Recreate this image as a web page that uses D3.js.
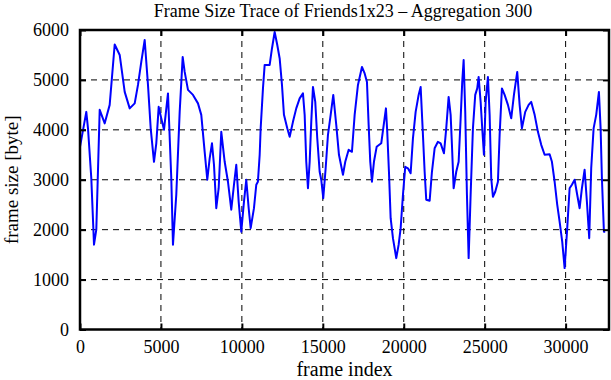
<!DOCTYPE html>
<html>
<head>
<meta charset="utf-8">
<script src="https://cdn.jsdelivr.net/npm/d3@7"></script>
<style>
  body { margin: 0; background: #fff; }
  text { font-family: "Liberation Serif", "DejaVu Serif", serif; fill: #000; }
</style>
</head>
<body>
<svg id="chart" width="611" height="380"></svg>
<script>
// frame index of each traced vertex
const frames = [0, 389, 494, 698, 865, 1007, 1217, 1526, 1834, 2143, 2452, 2761, 3070, 3379, 3582, 3786, 3996,
  4200, 4367, 4571, 4713, 4861, 5022, 5188, 5435, 5639, 5744, 5948, 6158, 6343, 6467, 6671, 6980, 7288, 7492,
  7702, 7863, 8011, 8153, 8277, 8419, 8567, 8728, 8938, 9141, 9345, 9512, 9654, 9802, 9963, 10130, 10272, 10420,
  10544, 10747, 10890, 10990, 11100, 11161, 11303, 11408, 11717, 11859, 12026, 12187, 12335, 12477, 12600, 12804,
  12953, 13156, 13360, 13570, 13774, 13879, 13978, 14083, 14188, 14287, 14392, 14534, 14657, 14805, 14904, 15028,
  15176, 15318, 15485, 15646, 15831, 15998, 16245, 16387, 16597, 16800, 16967, 17171, 17418, 17585, 17727, 17832,
  17931, 18036, 18159, 18326, 18610, 18734, 18900, 18981, 19086, 19191, 19333, 19537, 19685, 19809, 19951, 20093,
  20260, 20426, 20568, 20735, 20920, 21044, 21167, 21291, 21390, 21600, 21742, 21908, 22112, 22279, 22483, 22625,
  22773, 22897, 22977, 23082, 23243, 23391, 23515, 23613, 23700, 23799, 23904, 24009, 24132, 24274, 24416, 24540,
  24626, 24750, 24849, 24954, 25059, 25201, 25306, 25405, 25510, 25652, 25818, 25923, 26065, 26232, 26436, 26640,
  26807, 27011, 27159, 27301, 27505, 27715, 27876, 28086, 28289, 28493, 28703, 29012, 29154, 29321, 29481, 29629,
  29790, 29938, 30099, 30247, 30389, 30556, 30716, 30865, 31007, 31174, 31315, 31458, 31581, 31729, 31890, 32057,
  32162, 32242, 32366, 32446];
// frame size [byte] at each vertex
const sizes = [3660, 4360, 4030, 3030, 1700, 2000, 4400, 4130, 4500, 5710, 5500, 4760, 4430, 4530, 4900, 5360, 5800,
  4900, 4030, 3360, 3730, 4460, 4230, 4000, 4730, 3030, 1700, 2700, 4360, 5460, 5160, 4800, 4700, 4530, 4300,
  3560, 3000, 3430, 3730, 3300, 2430, 2830, 3960, 3360, 2960, 2400, 2900, 3300, 2560, 1960, 2560, 3000, 2430,
  2030, 2430, 2900, 2960, 3500, 4030, 4830, 5300, 5300, 5630, 5960, 5700, 5430, 4900, 4300, 4030,
  3860, 4160, 4430, 4630, 4730, 4300, 3360, 2830, 3360, 4160, 4860, 4560, 3830, 3160, 3000, 2630,
  3230, 3900, 4300, 4700, 4100, 3500, 3100, 3360, 3600, 3560, 4300, 4900, 5260, 5130, 4960, 4100,
  3360, 2960, 3360, 3660, 3730, 4030, 4430, 3960, 3160, 2230, 1830, 1430, 1700, 2030, 2700, 3260,
  3230, 3130, 3830, 4360, 4700, 4860, 4030, 3160, 2600, 2580, 3160, 3630, 3760, 3730, 3530, 4030,
  4660, 4300, 3700, 2830, 3160, 3360, 4230, 4960, 5400, 4360, 2700, 1430, 2700, 4030, 4700, 4830,
  5060, 4560, 4030, 3500, 4560, 5060, 4300, 3030, 2660, 2760, 2960, 3900, 4830, 4700, 4500, 4230,
  4700, 5160, 4500, 4030, 4360, 4500, 4560, 4300, 3960, 3700, 3500, 3510, 3360, 2960, 2500, 2160,
  1760, 1230, 2030, 2830, 2900, 3000, 2700, 2430, 2830, 3200, 2560, 1830, 3230, 4030, 4300, 4760,
  4030, 3030, 1960, 1960];

const xTicks = [0, 5000, 10000, 15000, 20000, 25000, 30000];
const yTicks = [0, 1000, 2000, 3000, 4000, 5000, 6000];

const svg = d3.select("#chart");
const margin = {top: 30, right: 2, bottom: 50.5, left: 80};
const W = 611, H = 380;
const iw = W - margin.left - margin.right;
const ih = H - margin.top - margin.bottom;

const x = d3.scaleLinear().domain([0, 32680]).range([0, iw]);
const y = d3.scaleLinear().domain([0, 6000]).range([ih, 0]);

const g = svg.append("g").attr("transform", `translate(${margin.left},${margin.top})`);

// dashed grid
g.append("g").selectAll("line").data(xTicks.slice(1)).join("line")
  .attr("x1", d => x(d)).attr("x2", d => x(d)).attr("y1", 0).attr("y2", ih)
  .attr("stroke", "#000").attr("stroke-width", 1).attr("stroke-dasharray", "6,5");
g.append("g").selectAll("line").data(yTicks.slice(1, -1)).join("line")
  .attr("x1", 0).attr("x2", iw).attr("y1", d => y(d)).attr("y2", d => y(d))
  .attr("stroke", "#000").attr("stroke-width", 1).attr("stroke-dasharray", "6,5");

// the trace
const pts = frames.map((f, i) => [f, sizes[i]]);
g.append("path").datum(pts)
  .attr("fill", "none").attr("stroke", "#0000ff").attr("stroke-width", 2)
  .attr("stroke-linejoin", "round")
  .attr("d", d3.line().x(d => x(d[0])).y(d => y(d[1])));

// axes: inward ticks on all four sides
const styleAxis = sel => {
  sel.select(".domain").remove();
  sel.selectAll(".tick line").attr("stroke", "#000").attr("stroke-width", 2);
  sel.selectAll("text").style("font-size", "18px");
};
g.append("g").attr("transform", `translate(0,${ih})`)
  .call(d3.axisBottom(x).tickValues(xTicks).tickFormat(d3.format("d")).tickSizeInner(-6).tickPadding(11))
  .call(styleAxis);
g.append("g")
  .call(d3.axisTop(x).tickValues(xTicks).tickFormat("").tickSizeInner(-6))
  .call(styleAxis);
g.append("g")
  .call(d3.axisLeft(y).tickValues(yTicks).tickFormat(d3.format("d")).tickSizeInner(-6).tickPadding(11))
  .call(styleAxis);
g.append("g").attr("transform", `translate(${iw},0)`)
  .call(d3.axisRight(y).tickValues(yTicks).tickFormat("").tickSizeInner(-6))
  .call(styleAxis);

// frame
g.append("rect").attr("width", iw).attr("height", ih)
  .attr("fill", "none").attr("stroke", "#000").attr("stroke-width", 2.5);

// labels
svg.append("text").attr("x", 343).attr("y", 17).attr("text-anchor", "middle")
  .style("font-size", "18px").text("Frame Size Trace of Friends1x23 \u2013 Aggregation 300");
svg.append("text").attr("x", margin.left + iw / 2).attr("y", 376).attr("text-anchor", "middle")
  .style("font-size", "20px").text("frame index");
svg.append("text").attr("transform", `translate(18,${margin.top + ih / 2}) rotate(-90)`)
  .attr("text-anchor", "middle").style("font-size", "19px").text("frame size [byte]");
</script>
</body>
</html>
